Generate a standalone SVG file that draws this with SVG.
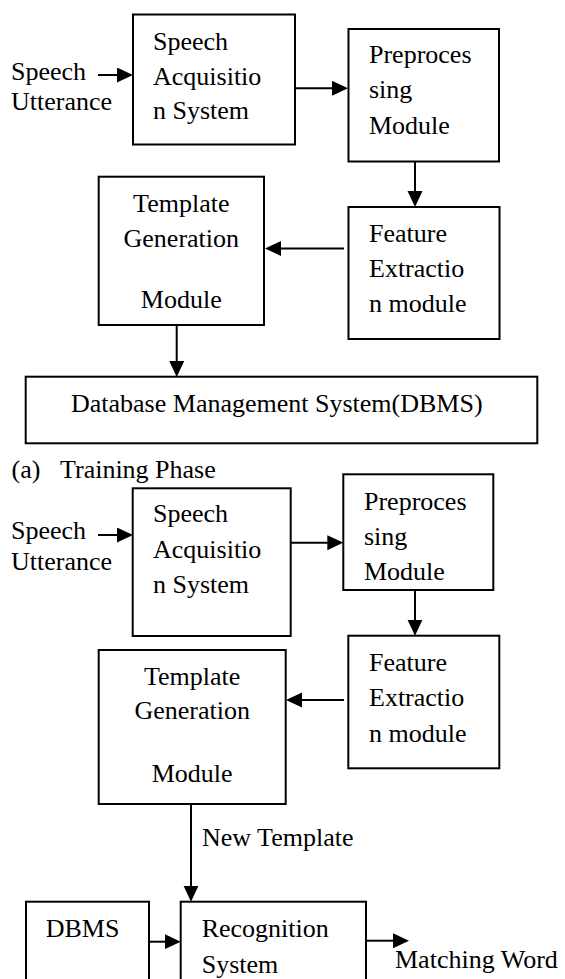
<svg xmlns="http://www.w3.org/2000/svg" width="565" height="979" viewBox="0 0 565 979">
  <defs>
    <style>
      .box { fill: #ffffff; stroke: #000000; stroke-width: 2; }
      .lbl { font-family: 'Liberation Serif', 'Times New Roman', Times, 'DejaVu Serif', serif; font-size: 26px; fill: #000000; }
      .mid { text-anchor: middle; }
      .wire { fill: none; stroke: #000000; stroke-width: 2; marker-end: url(#arrow); }
    </style>
    <marker id="arrow" markerUnits="userSpaceOnUse" markerWidth="16" markerHeight="16" refX="1" refY="7.5" orient="auto">
      <path d="M0,0 L16,7.5 L0,15 Z" fill="#000000"/>
    </marker>
  </defs>
  <rect width="565" height="979" fill="#ffffff"/>

  <g font-family="'Liberation Serif', 'Times New Roman', Times, 'DejaVu Serif', serif">
  <!-- (a) Training phase -->
  <g id="utterance-a">
    <text class="lbl" x="11" y="80">Speech</text>
    <text class="lbl" x="11" y="110">Utterance</text>
  </g>
  <g id="acquisition-a">
    <rect class="box" x="133" y="14.5" width="162" height="130"/>
    <text class="lbl" x="153" y="50">Speech</text>
    <text class="lbl" x="153" y="85">Acquisitio</text>
    <text class="lbl" x="153" y="119">n System</text>
  </g>
  <g id="preprocessing-a">
    <rect class="box" x="348.5" y="29" width="150.5" height="132.5"/>
    <text class="lbl" x="369" y="63">Preproces</text>
    <text class="lbl" x="369" y="98">sing</text>
    <text class="lbl" x="369" y="134">Module</text>
  </g>
  <g id="feature-a">
    <rect class="box" x="348.5" y="207" width="151" height="132"/>
    <text class="lbl" x="369" y="242">Feature</text>
    <text class="lbl" x="369" y="277">Extractio</text>
    <text class="lbl" x="369" y="312">n module</text>
  </g>
  <g id="template-a">
    <rect class="box" x="98.7" y="176.7" width="165.3" height="148.3"/>
    <text class="lbl mid" x="181.3" y="212">Template</text>
    <text class="lbl mid" x="181.3" y="247">Generation</text>
    <text class="lbl mid" x="181.3" y="308">Module</text>
  </g>
  <g id="dbms-a">
    <rect class="box" x="25.7" y="376.7" width="511.6" height="66.6"/>
    <text class="lbl" x="71" y="412">Database Management System(DBMS)</text>
  </g>
  <g id="caption-a">
    <text class="lbl" x="11.5" y="478">(a)</text>
    <text class="lbl" x="60" y="478">Training Phase</text>
  </g>

  <!-- Recognition phase -->
  <g id="utterance-b">
    <text class="lbl" x="11" y="539">Speech</text>
    <text class="lbl" x="11" y="570">Utterance</text>
  </g>
  <g id="acquisition-b">
    <rect class="box" x="132.7" y="488.3" width="158" height="147.7"/>
    <text class="lbl" x="153" y="522">Speech</text>
    <text class="lbl" x="153" y="558">Acquisitio</text>
    <text class="lbl" x="153" y="593">n System</text>
  </g>
  <g id="preprocessing-b">
    <rect class="box" x="343.3" y="474.3" width="150" height="115.7"/>
    <text class="lbl" x="364" y="510">Preproces</text>
    <text class="lbl" x="364" y="545">sing</text>
    <text class="lbl" x="364" y="580">Module</text>
  </g>
  <g id="feature-b">
    <rect class="box" x="348.3" y="635.7" width="151" height="132.6"/>
    <text class="lbl" x="369" y="671">Feature</text>
    <text class="lbl" x="369" y="706">Extractio</text>
    <text class="lbl" x="369" y="742">n module</text>
  </g>
  <g id="template-b">
    <rect class="box" x="98.7" y="650" width="187" height="154"/>
    <text class="lbl mid" x="192.2" y="685">Template</text>
    <text class="lbl mid" x="192.2" y="719">Generation</text>
    <text class="lbl mid" x="192.2" y="782">Module</text>
  </g>
  <g id="new-template-label">
    <text class="lbl" x="202" y="846">New Template</text>
  </g>
  <g id="dbms-b">
    <rect class="box" x="26" y="901.7" width="123" height="100"/>
    <text class="lbl" x="45.7" y="937">DBMS</text>
  </g>
  <g id="recognition">
    <rect class="box" x="180.7" y="901.7" width="185.3" height="100"/>
    <text class="lbl" x="201.7" y="937">Recognition</text>
    <text class="lbl" x="201.7" y="973">System</text>
  </g>
  <g id="matching-word">
    <text class="lbl" x="395" y="968">Matching Word</text>
  </g>
  </g>

  <!-- connectors: each line stops 15px short of the tip, the marker fills the rest -->
  <g id="connectors">
    <path class="wire" d="M98,75 H118"/>
    <path class="wire" d="M295,88.3 H333"/>
    <path class="wire" d="M415,161.5 V192"/>
    <path class="wire" d="M344,248.5 H280"/>
    <path class="wire" d="M176.7,325 V362"/>

    <path class="wire" d="M98,535 H118"/>
    <path class="wire" d="M290.7,542.7 H328.3"/>
    <path class="wire" d="M415,590 V620.7"/>
    <path class="wire" d="M344,700 H301"/>
    <path class="wire" d="M191,804 V886.7"/>
    <path class="wire" d="M149,941.7 H165.7"/>
    <path class="wire" d="M366,940.7 H394"/>
  </g>
</svg>
